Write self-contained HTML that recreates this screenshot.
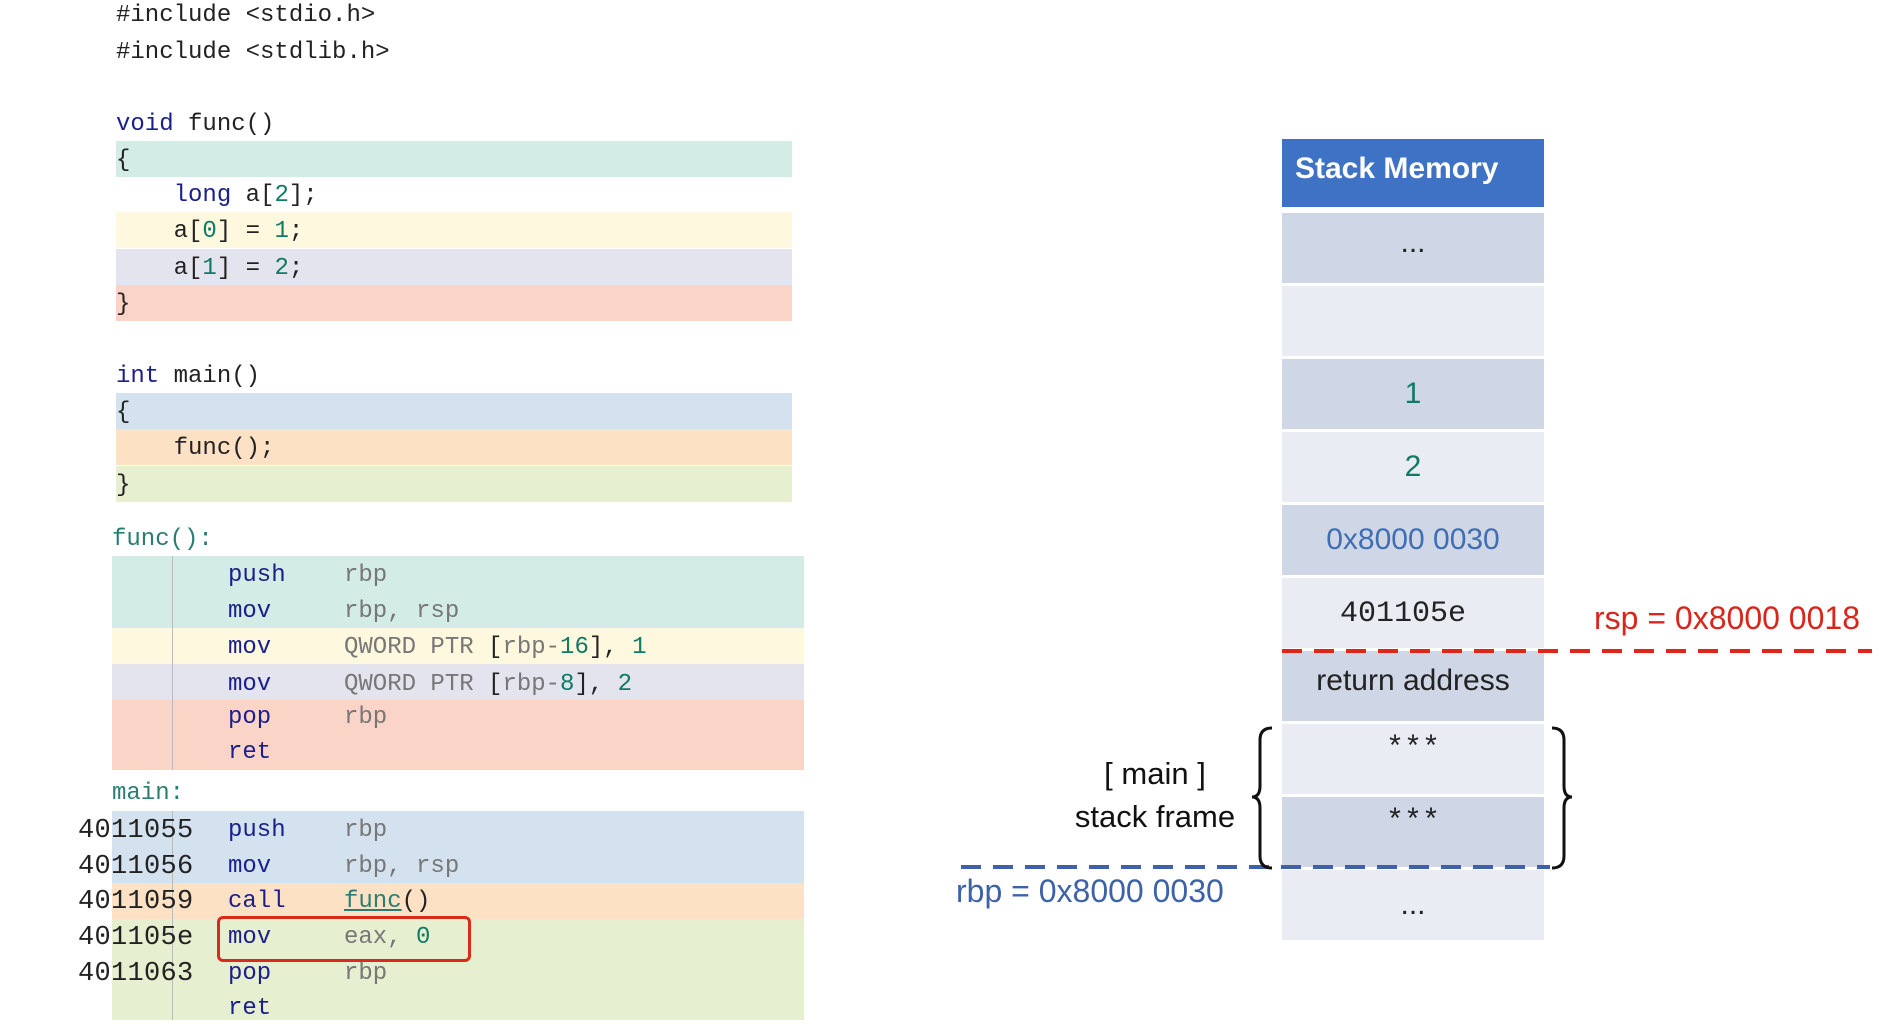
<!DOCTYPE html>
<html><head><meta charset="utf-8"><style>
body{margin:0;width:1891px;height:1020px;background:#fff;position:relative;overflow:hidden;font-family:"Liberation Sans",sans-serif}
.b{position:absolute;height:36px}
.l{position:absolute;height:36px;line-height:40px;font-family:"Liberation Mono",monospace;font-size:24px;color:#222;white-space:pre}
.a{font-size:27px;letter-spacing:0.3px}
.k{color:#1b1f8a}.n{color:#0f7a66}.g{color:#777}.t{color:#2a7d74}
.r{position:absolute;left:1282px;width:262px;height:70px;line-height:70px;text-align:center;font-size:30px;color:#222}
.d{background:#cfd7e7}.w{background:#e9ecf3}
</style></head><body>
<div class="b" style="left:116px;width:676px;top:141px;background:#d3ece6"></div>
<div class="b" style="left:116px;width:676px;top:212px;background:#fdf8de"></div>
<div class="b" style="left:116px;width:676px;top:249px;background:#e4e4ee"></div>
<div class="b" style="left:116px;width:676px;top:285px;background:#fbd4c8"></div>
<div class="b" style="left:116px;width:676px;top:393px;background:#d3e2ee"></div>
<div class="b" style="left:116px;width:676px;top:429px;background:#fde1c4"></div>
<div class="b" style="left:116px;width:676px;top:466px;background:#e6efcf"></div>
<div class="b" style="left:112px;width:692px;top:556px;height:72px;background:#d3ece6"></div>
<div class="b" style="left:112px;width:692px;top:628px;background:#fdf8de"></div>
<div class="b" style="left:112px;width:692px;top:664px;background:#e4e4ee"></div>
<div class="b" style="left:112px;width:692px;top:700px;height:70px;background:#fbd4c8"></div>
<div class="b" style="left:112px;width:692px;top:811px;height:72px;background:#d3e2ee"></div>
<div class="b" style="left:112px;width:692px;top:883px;background:#fde1c4"></div>
<div class="b" style="left:112px;width:692px;top:919px;height:101px;background:#e6efcf"></div>
<div style="position:absolute;left:172px;top:556px;width:1px;height:214px;background:#bbb"></div>
<div style="position:absolute;left:172px;top:811px;width:1px;height:209px;background:#bbb"></div>
<div class="l" style="left:116px;top:-4px">#include &lt;stdio.h&gt;</div>
<div class="l" style="left:116px;top:33px">#include &lt;stdlib.h&gt;</div>
<div class="l" style="left:116px;top:105px"><span class="k">void</span> func()</div>
<div class="l" style="left:116px;top:141px">{</div>
<div class="l" style="left:116px;top:176px">    <span class="k">long</span> a[<span class="n">2</span>];</div>
<div class="l" style="left:116px;top:212px">    a[<span class="n">0</span>] = <span class="n">1</span>;</div>
<div class="l" style="left:116px;top:249px">    a[<span class="n">1</span>] = <span class="n">2</span>;</div>
<div class="l" style="left:116px;top:285px">}</div>
<div class="l" style="left:116px;top:357px"><span class="k">int</span> main()</div>
<div class="l" style="left:116px;top:393px">{</div>
<div class="l" style="left:116px;top:429px">    func();</div>
<div class="l" style="left:116px;top:466px">}</div>
<div class="l t" style="left:112px;top:520px">func():</div>
<div class="l k" style="left:228px;top:556px">push</div><div class="l g" style="left:344px;top:556px">rbp</div>
<div class="l k" style="left:228px;top:592px">mov</div><div class="l g" style="left:344px;top:592px">rbp, rsp</div>
<div class="l k" style="left:228px;top:628px">mov</div><div class="l g" style="left:344px;top:628px">QWORD PTR <span style="color:#222">[</span>rbp-<span class="n">16</span><span style="color:#222">],</span> <span class="n">1</span></div>
<div class="l k" style="left:228px;top:665px">mov</div><div class="l g" style="left:344px;top:665px">QWORD PTR <span style="color:#222">[</span>rbp-<span class="n">8</span><span style="color:#222">],</span> <span class="n">2</span></div>
<div class="l k" style="left:228px;top:698px">pop</div><div class="l g" style="left:344px;top:698px">rbp</div>
<div class="l k" style="left:228px;top:733px">ret</div>
<div class="l t" style="left:112px;top:774px">main:</div>
<div class="l a" style="left:78px;top:811px">4011055</div><div class="l k" style="left:228px;top:811px">push</div><div class="l g" style="left:344px;top:811px">rbp</div>
<div class="l a" style="left:78px;top:847px">4011056</div><div class="l k" style="left:228px;top:847px">mov</div><div class="l g" style="left:344px;top:847px">rbp, rsp</div>
<div class="l a" style="left:78px;top:882px">4011059</div><div class="l k" style="left:228px;top:882px">call</div><div class="l t" style="left:344px;top:882px"><u>func</u><span style="color:#222">()</span></div>
<div class="l a" style="left:78px;top:918px">401105e</div><div class="l k" style="left:228px;top:918px">mov</div><div class="l g" style="left:344px;top:918px">eax, <span class="n">0</span></div>
<div class="l a" style="left:78px;top:954px">4011063</div><div class="l k" style="left:228px;top:954px">pop</div><div class="l g" style="left:344px;top:954px">rbp</div>
<div class="l k" style="left:228px;top:989px">ret</div>
<div style="position:absolute;left:217px;top:916px;width:248px;height:40px;border:3px solid #d92a1c;border-radius:6px"></div>
<div style="position:absolute;left:1282px;top:139px;width:262px;height:68px;background:#3e72c4;color:#fff;font-weight:bold;font-size:30px;line-height:60px;padding-left:13px;box-sizing:border-box">Stack Memory</div>
<div class="r d" style="top:213px;line-height:60px">...</div>
<div class="r w" style="top:286px"></div>
<div class="r d" style="top:359px;color:#0f7a66">1</div>
<div class="r w" style="top:432px;color:#0f7a66">2</div>
<div class="r d" style="top:505px;color:#3f6eb5">0x8000 0030</div>
<div class="r w" style="top:578px;font-family:'Liberation Mono',monospace;font-size:30px;padding-right:20px;box-sizing:border-box;line-height:72px">401105e</div>
<div class="r d" style="top:651px;line-height:60px">return address</div>
<div class="r w" style="top:724px;line-height:50px;font-family:'Liberation Mono',monospace">***</div>
<div class="r d" style="top:797px;line-height:50px;font-family:'Liberation Mono',monospace">***</div>
<div class="r w" style="top:870px;line-height:70px">...</div>
<svg style="position:absolute;left:0;top:0" width="1891" height="1020">
<line x1="1282" y1="651" x2="1872" y2="651" stroke="#e0261a" stroke-width="4" stroke-dasharray="20,12"/>
<line x1="961" y1="867" x2="1550" y2="867" stroke="#3d62a8" stroke-width="4" stroke-dasharray="20,12"/>
<path d="M1272 728 Q1260 728 1260 740 L1260 786 Q1260 797 1252 797 Q1260 797 1260 808 L1260 856 Q1260 868 1272 868" fill="none" stroke="#111" stroke-width="3"/>
<path d="M1552 728 Q1564 728 1564 740 L1564 786 Q1564 797 1572 797 Q1564 797 1564 808 L1564 856 Q1564 868 1552 868" fill="none" stroke="#111" stroke-width="3"/>
</svg>
<div style="position:absolute;left:1594px;top:600px;font-size:32px;color:#d9261a">rsp = 0x8000 0018</div>
<div style="position:absolute;left:956px;top:873px;font-size:32px;color:#3d62a8">rbp = 0x8000 0030</div>
<div style="position:absolute;left:1060px;top:752px;width:190px;text-align:center;font-size:31px;color:#111;line-height:43px">[ main ]<br>stack frame</div>
</body></html>
